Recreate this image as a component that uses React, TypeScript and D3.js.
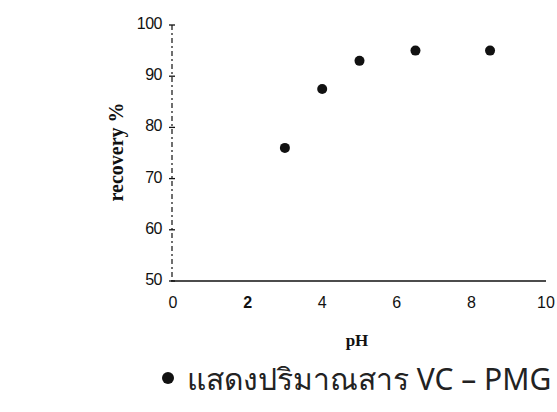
import React, { useEffect, useRef } from "react";
import * as d3 from "d3";

// pH vs recovery
const phValues = [3, 4, 5, 6.5, 8.5];
const recoveryValues = [76, 87.5, 93, 95, 95];
const xTicks = [0, 2, 4, 6, 8, 10];
const yTicks = [50, 60, 70, 80, 90, 100];
const legendLabel = "แสดงปริมาณสาร VC – PMG";

const width = 557;
const height = 412;

export default function App() {
  const ref = useRef<SVGSVGElement>(null);

  useEffect(() => {
    const svg = d3.select(ref.current);
    svg.selectAll("*").remove();

    const x = d3.scaleLinear().domain([0, 10]).range([173, 546]);
    const y = d3.scaleLinear().domain([50, 100]).range([281, 25]);

    // x axis: plain line with labels below
    svg
      .append("line")
      .attr("x1", x(0) - 2)
      .attr("x2", x(10))
      .attr("y1", y(50))
      .attr("y2", y(50))
      .attr("stroke", "#111")
      .attr("stroke-width", 1.6);

    svg
      .selectAll("text.xt")
      .data(xTicks)
      .enter()
      .append("text")
      .attr("class", "xt")
      .attr("x", (d) => x(d))
      .attr("y", y(50) + 27)
      .attr("text-anchor", "middle")
      .style("font-family", "Liberation Sans, Arial, sans-serif")
      .style("font-size", "16px")
      .style("font-weight", (d) => (d === 2 ? "bold" : "normal"))
      .attr("fill", "#111")
      .text((d) => d);

    // y axis: broken dashed line, little tick marks
    svg
      .append("line")
      .attr("x1", x(0) - 1)
      .attr("x2", x(0) - 1)
      .attr("y1", y(100))
      .attr("y2", y(50))
      .attr("stroke", "#222")
      .attr("stroke-width", 1.3)
      .attr("stroke-dasharray", "5,3,2,3");

    svg
      .selectAll("line.yt")
      .data(yTicks)
      .enter()
      .append("line")
      .attr("class", "yt")
      .attr("x1", x(0) - 4)
      .attr("x2", x(0) + 2)
      .attr("y1", (d) => y(d))
      .attr("y2", (d) => y(d))
      .attr("stroke", "#111")
      .attr("stroke-width", 1.3);

    svg
      .selectAll("text.yl")
      .data(yTicks)
      .enter()
      .append("text")
      .attr("class", "yl")
      .attr("x", 162)
      .attr("y", (d) => y(d) + 4)
      .attr("text-anchor", "end")
      .style("font-family", "Liberation Sans, Arial, sans-serif")
      .style("font-size", "16px")
      .style("letter-spacing", "-0.5px")
      .attr("fill", "#111")
      .text((d) => d);

    // points
    svg
      .selectAll("circle.pt")
      .data(phValues)
      .enter()
      .append("circle")
      .attr("class", "pt")
      .attr("cx", (d) => x(d))
      .attr("cy", (d, i) => y(recoveryValues[i]))
      .attr("r", 5)
      .attr("fill", "#111");

    // axis titles
    svg
      .append("text")
      .attr("transform", "translate(123,152) rotate(-90)")
      .attr("text-anchor", "middle")
      .style("font-family", "Liberation Serif, Times New Roman, serif")
      .style("font-size", "20px")
      .style("font-weight", "bold")
      .attr("fill", "#111")
      .text("recovery %");

    svg
      .append("text")
      .attr("x", 357)
      .attr("y", 346)
      .attr("text-anchor", "middle")
      .style("font-family", "Liberation Serif, Times New Roman, serif")
      .style("font-size", "17px")
      .style("font-weight", "bold")
      .attr("fill", "#111")
      .text("pH");

    // legend
    svg
      .append("circle")
      .attr("cx", 168)
      .attr("cy", 378)
      .attr("r", 6)
      .attr("fill", "#111");

    svg
      .append("text")
      .attr("x", 187)
      .attr("y", 390)
      .style("font-family", "Noto Sans, Liberation Sans, sans-serif")
      .style("font-size", "30px")
      .attr("fill", "#222")
      .text(legendLabel);
  }, []);

  return (
    <svg
      ref={ref}
      width={width}
      height={height}
      style={{ position: "absolute", left: 0, top: 0, background: "#fff" }}
    />
  );
}
